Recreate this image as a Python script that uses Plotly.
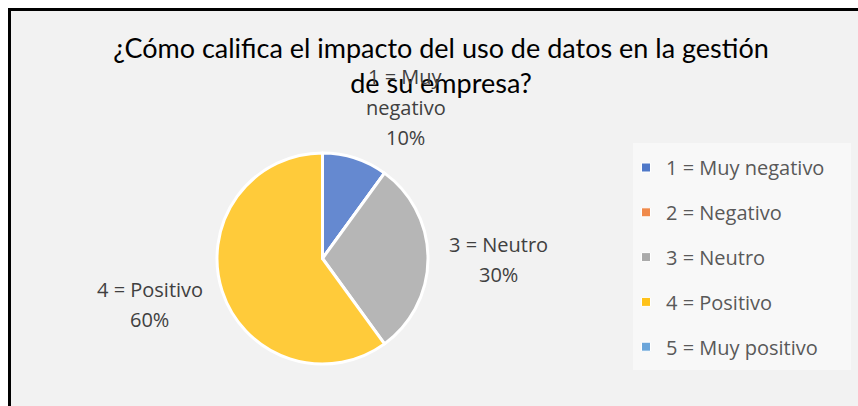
import math
import plotly.graph_objects as go

# ---- data ----
categories = ["1 = Muy negativo", "2 = Negativo", "3 = Neutro", "4 = Positivo", "5 = Muy positivo"]
values = [10, 0, 30, 60, 0]
slice_labels = ["1 = Muy<br>negativo", "2 = Negativo", "3 = Neutro", "4 = Positivo", "5 = Muy<br>positivo"]
title_text = "¿Cómo califica el impacto del uso de datos en la gestión<br>de su empresa?"

# ---- styles ----
slice_colors = ["#6589d0", "#ed7d31", "#b6b6b6", "#ffcb3a", "#5b9bd5"]
legend_colors = ["#4f78c8", "#f08a4b", "#aaaaaa", "#ffc21a", "#6ba5da"]
W, H = 858, 406
TITLE_FONT = "Lato, 'Open Sans', sans-serif"
FONT = "'Open Sans', 'Noto Sans', sans-serif"

# pie geometry in pixels
cx, cy, R = 322.5, 258.5, 105.5
dom_x = [(cx - R) / W, (cx + R) / W]
dom_y = [1 - (cy + R) / H, 1 - (cy - R) / H]

# label placement styles: radial distance beyond the pie edge, extra pixel shift
label_radius = {0: 25, 2: 67, 3: 70}
label_shift = {0: (43, -27), 2: (3, 1), 3: (-6, -8)}
LINE_STEP = 30.5

fig = go.Figure()
fig.add_trace(go.Pie(
    labels=categories, values=values, sort=False, direction="clockwise",
    rotation=0, textinfo="none", hoverinfo="label+percent",
    marker=dict(colors=slice_colors, line=dict(color="white", width=3)),
    domain=dict(x=dom_x, y=dom_y), showlegend=False,
))

# legend entries
for cat, col in zip(categories, legend_colors):
    fig.add_trace(go.Scatter(
        x=[None], y=[None], mode="markers", name=cat, legendgroup=cat,
        marker=dict(symbol="square", size=9, color=col, line=dict(color="white", width=1)),
        showlegend=True,
    ))

# slice labels computed from data angles
total = sum(values)
annotations = []
cum = 0
for i, v in enumerate(values):
    if v > 0:
        mid = (cum + v / 2) / total * 2 * math.pi
        dx, dy = math.sin(mid), -math.cos(mid)
        rr = R + label_radius.get(i, 20)
        sx, sy = label_shift.get(i, (0, 0))
        bx, by = cx + rr * dx + sx, cy + rr * dy + sy
        lines = slice_labels[i].split("<br>") + [f"{round(v / total * 100)}%"]
        n = len(lines)
        for k, line in enumerate(lines):
            ly = by + (k - (n - 1) / 2) * LINE_STEP
            annotations.append(dict(
                x=bx / W, y=1 - ly / H, xref="paper", yref="paper",
                text=line, showarrow=False, xanchor="center", yanchor="middle",
                font=dict(family=FONT, size=20, color="#404040"),
            ))
    cum += v

fig.update_layout(
    width=W, height=H,
    margin=dict(l=0, r=0, t=0, b=0),
    paper_bgcolor="white", plot_bgcolor="rgba(0,0,0,0)",
    xaxis=dict(visible=False), yaxis=dict(visible=False),
    title=dict(text=title_text, x=441 / W, xanchor="center", y=1 - 58 / H, yanchor="top",
               font=dict(family=TITLE_FONT, size=27, color="#000000")),
    legend=dict(x=626 / W, xanchor="left", y=1 - 148 / H, yanchor="top",
                bgcolor="rgba(0,0,0,0)", tracegroupgap=15.8,
                font=dict(family=FONT, size=20, color="#595959")),
    annotations=annotations,
    shapes=[
        dict(type="rect", xref="paper", yref="paper", x0=9.5 / W, x1=1.02, y0=-0.02, y1=1 - 9.5 / H,
             fillcolor="#f2f2f2", line=dict(color="black", width=3), layer="below"),
        dict(type="rect", xref="paper", yref="paper", x0=633 / W, x1=851 / W, y0=1 - 370 / H, y1=1 - 143 / H,
             fillcolor="#f8f8f8", line=dict(width=0), layer="below"),
    ],
)
fig.write_html("out.html", post_script="document.body.style.margin='0';",
               config={"displayModeBar": False})
